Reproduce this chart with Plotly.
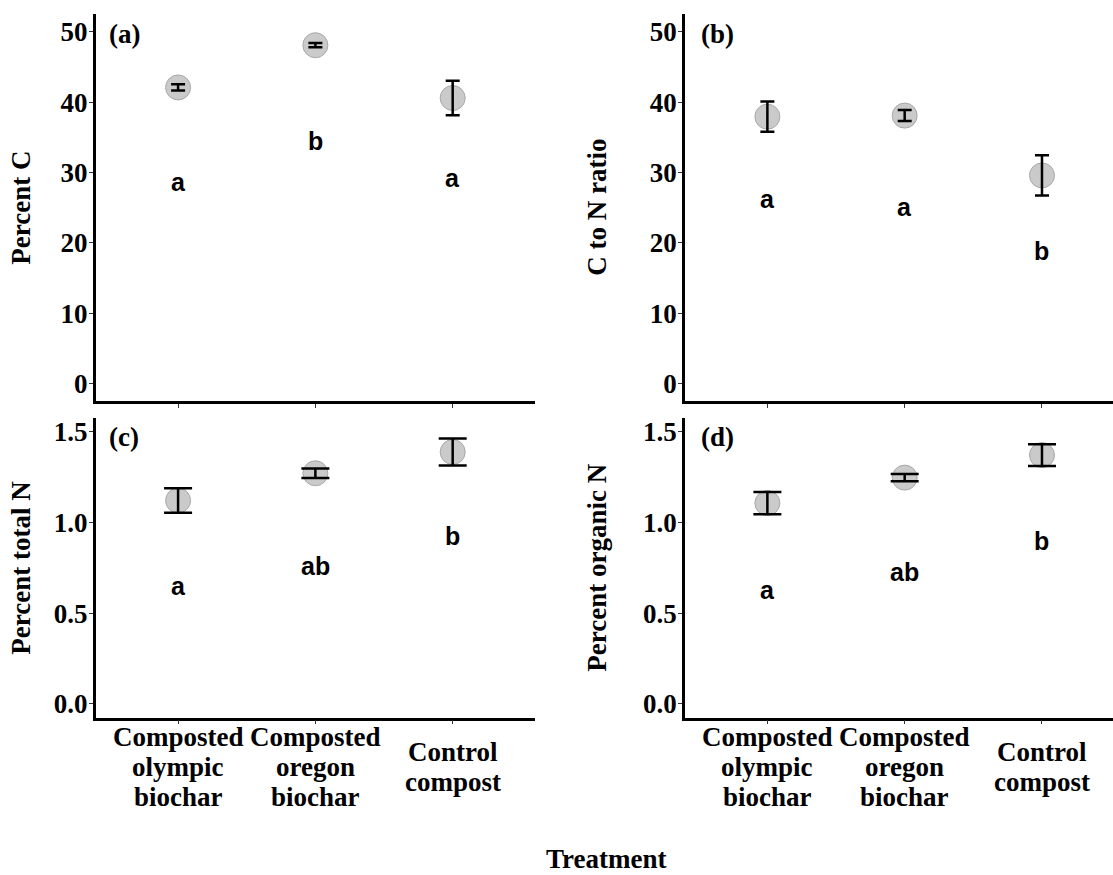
import plotly.graph_objects as go

# ---------------- data ----------------
categories = ["Composted olympic biochar", "Composted oregon biochar", "Control compost"]
category_lines = [["Composted", "olympic", "biochar"],
                  ["Composted", "oregon", "biochar"],
                  ["Control", "compost"]]

percent_c_mean = [42.1, 48.1, 40.6]
percent_c_se = [0.45, 0.3, 2.45]
percent_c_letters = ["a", "b", "a"]
percent_c_letter_y = [28.6, 34.5, 29.2]

cn_ratio_mean = [37.95, 38.1, 29.6]
cn_ratio_se = [2.15, 0.78, 2.85]
cn_ratio_letters = ["a", "a", "b"]
cn_ratio_letter_y = [26.2, 25.1, 18.8]

total_n_mean = [1.12, 1.27, 1.387]
total_n_se = [0.068, 0.026, 0.074]
total_n_letters = ["a", "ab", "b"]
total_n_letter_y = [0.648, 0.758, 0.925]

organic_n_mean = [1.106, 1.246, 1.37]
organic_n_se = [0.061, 0.02, 0.06]
organic_n_letters = ["a", "ab", "b"]
organic_n_letter_y = [0.627, 0.728, 0.896]

panel_tags = ["(a)", "(b)", "(c)", "(d)"]
y_titles = ["Percent C", "C to N ratio", "Percent total N", "Percent organic N"]
x_title = "Treatment"

# ---------------- layout helpers ----------------
W, H = 1113, 875
def px(x):
    return x / W
def py(y):
    return 1 - y / H

SERIF = "Liberation Serif"
SANS = "Liberation Sans"
FS = 27

# panel pixel boxes: left, right, top, bottom
left_x = (95.7, 534.5)
right_x = (685.0, 1113.0)
top_y = (13.3, 401.7)
bot_y = (418.3, 719.0)
unit_px = 137.3  # pixels per category step

panels = [
    dict(xb=left_x, yb=top_y, mean=percent_c_mean, se=percent_c_se, let=percent_c_letters,
         ly=percent_c_letter_y, yr=[-2.5, 52.5], tv=[0, 10, 20, 30, 40, 50], fmt="d", cap=7),
    dict(xb=right_x, yb=top_y, mean=cn_ratio_mean, se=cn_ratio_se, let=cn_ratio_letters,
         ly=cn_ratio_letter_y, yr=[-2.5, 52.5], tv=[0, 10, 20, 30, 40, 50], fmt="d", cap=7),
    dict(xb=left_x, yb=bot_y, mean=total_n_mean, se=total_n_se, let=total_n_letters,
         ly=total_n_letter_y, yr=[-0.075, 1.575], tv=[0, 0.5, 1.0, 1.5], fmt=".1f", cap=14),
    dict(xb=right_x, yb=bot_y, mean=organic_n_mean, se=organic_n_se, let=organic_n_letters,
         ly=organic_n_letter_y, yr=[-0.075, 1.575], tv=[0, 0.5, 1.0, 1.5], fmt=".1f", cap=14),
]

fig = go.Figure()
annotations = []
layout = {}

for i, p in enumerate(panels):
    n = "" if i == 0 else str(i + 1)
    xa, ya = "x" + n, "y" + n
    xl, xr = p["xb"]
    yt, yb = p["yb"]
    xrange_hi = -0.6 + (xr - xl) / unit_px
    layout["xaxis" + n] = dict(
        domain=[px(xl), px(xr)], anchor=ya, type="category",
        categoryorder="array", categoryarray=categories,
        range=[-0.6, xrange_hi], showline=True, linecolor="black", linewidth=2.5,
        ticks="outside", ticklen=4, tickwidth=1.2, tickcolor="#333333",
        showticklabels=False, showgrid=False, zeroline=False, fixedrange=True)
    layout["yaxis" + n] = dict(
        domain=[py(yb), py(yt)], anchor=xa, range=p["yr"],
        tickvals=p["tv"], tickformat=p["fmt"], showline=True, linecolor="black",
        linewidth=2.5, ticks="outside", ticklen=4, tickwidth=1.2, tickcolor="#333333",
        ticklabelstandoff=-4,
        tickfont=dict(family=SERIF, size=FS, color="black", weight="bold"),
        showgrid=False, zeroline=False, fixedrange=True)

    # markers
    fig.add_trace(go.Scatter(
        x=categories, y=p["mean"], mode="markers", xaxis=xa, yaxis=ya,
        marker=dict(size=25, color="rgb(202,202,202)", line=dict(color="rgb(168,168,168)", width=1)),
        showlegend=False, hoverinfo="skip"))
    # error bars on top
    fig.add_trace(go.Scatter(
        x=categories, y=p["mean"], mode="markers", xaxis=xa, yaxis=ya,
        marker=dict(size=1, opacity=0),
        error_y=dict(type="data", array=p["se"], visible=True, color="black",
                     thickness=2.5, width=p["cap"]),
        showlegend=False, hoverinfo="skip"))

    # significance letters
    for c, t, yv in zip(categories, p["let"], p["ly"]):
        annotations.append(dict(x=c, y=yv, xref=xa, yref=ya, text=t, showarrow=False,
                                xanchor="center", yanchor="middle",
                                font=dict(family=SANS, size=25, color="black", weight="bold")))

    # panel tag
    annotations.append(dict(x=px(xl + (11 if i % 2 == 0 else 14)), y=py(yt + 19.5),
                            xref="paper", yref="paper", text=panel_tags[i], showarrow=False,
                            xanchor="left", yanchor="middle",
                            font=dict(family=SERIF, size=FS, color="black", weight="bold")))

    # y title
    annotations.append(dict(x=px(21 if i % 2 == 0 else 597), y=py((yt + yb) / 2),
                            xref="paper", yref="paper", text=y_titles[i], showarrow=False,
                            textangle=-90, xanchor="center", yanchor="middle",
                            font=dict(family=SERIF, size=FS, color="black", weight="bold")))

    # x category labels on bottom panels
    if i >= 2:
        for c, lines in zip(categories, category_lines):
            nl = len(lines)
            for k, line in enumerate(lines):
                base = 778 + 30 * (k - (nl - 1) / 2)
                annotations.append(dict(x=c, y=py(base - 9.5), xref=xa, yref="paper",
                                        text=line, showarrow=False, xanchor="center",
                                        yanchor="middle",
                                        font=dict(family=SERIF, size=FS, color="black", weight="bold")))

annotations.append(dict(x=px(606), y=py(861), xref="paper", yref="paper", text=x_title,
                        showarrow=False, xanchor="center", yanchor="middle",
                        font=dict(family=SERIF, size=FS, color="black", weight="bold")))

fig.update_layout(
    width=W, height=H, margin=dict(l=0, r=0, t=0, b=0),
    paper_bgcolor="white", plot_bgcolor="white",
    annotations=annotations, showlegend=False, **layout)

fig.write_html("out.html", config={"displayModeBar": False})
